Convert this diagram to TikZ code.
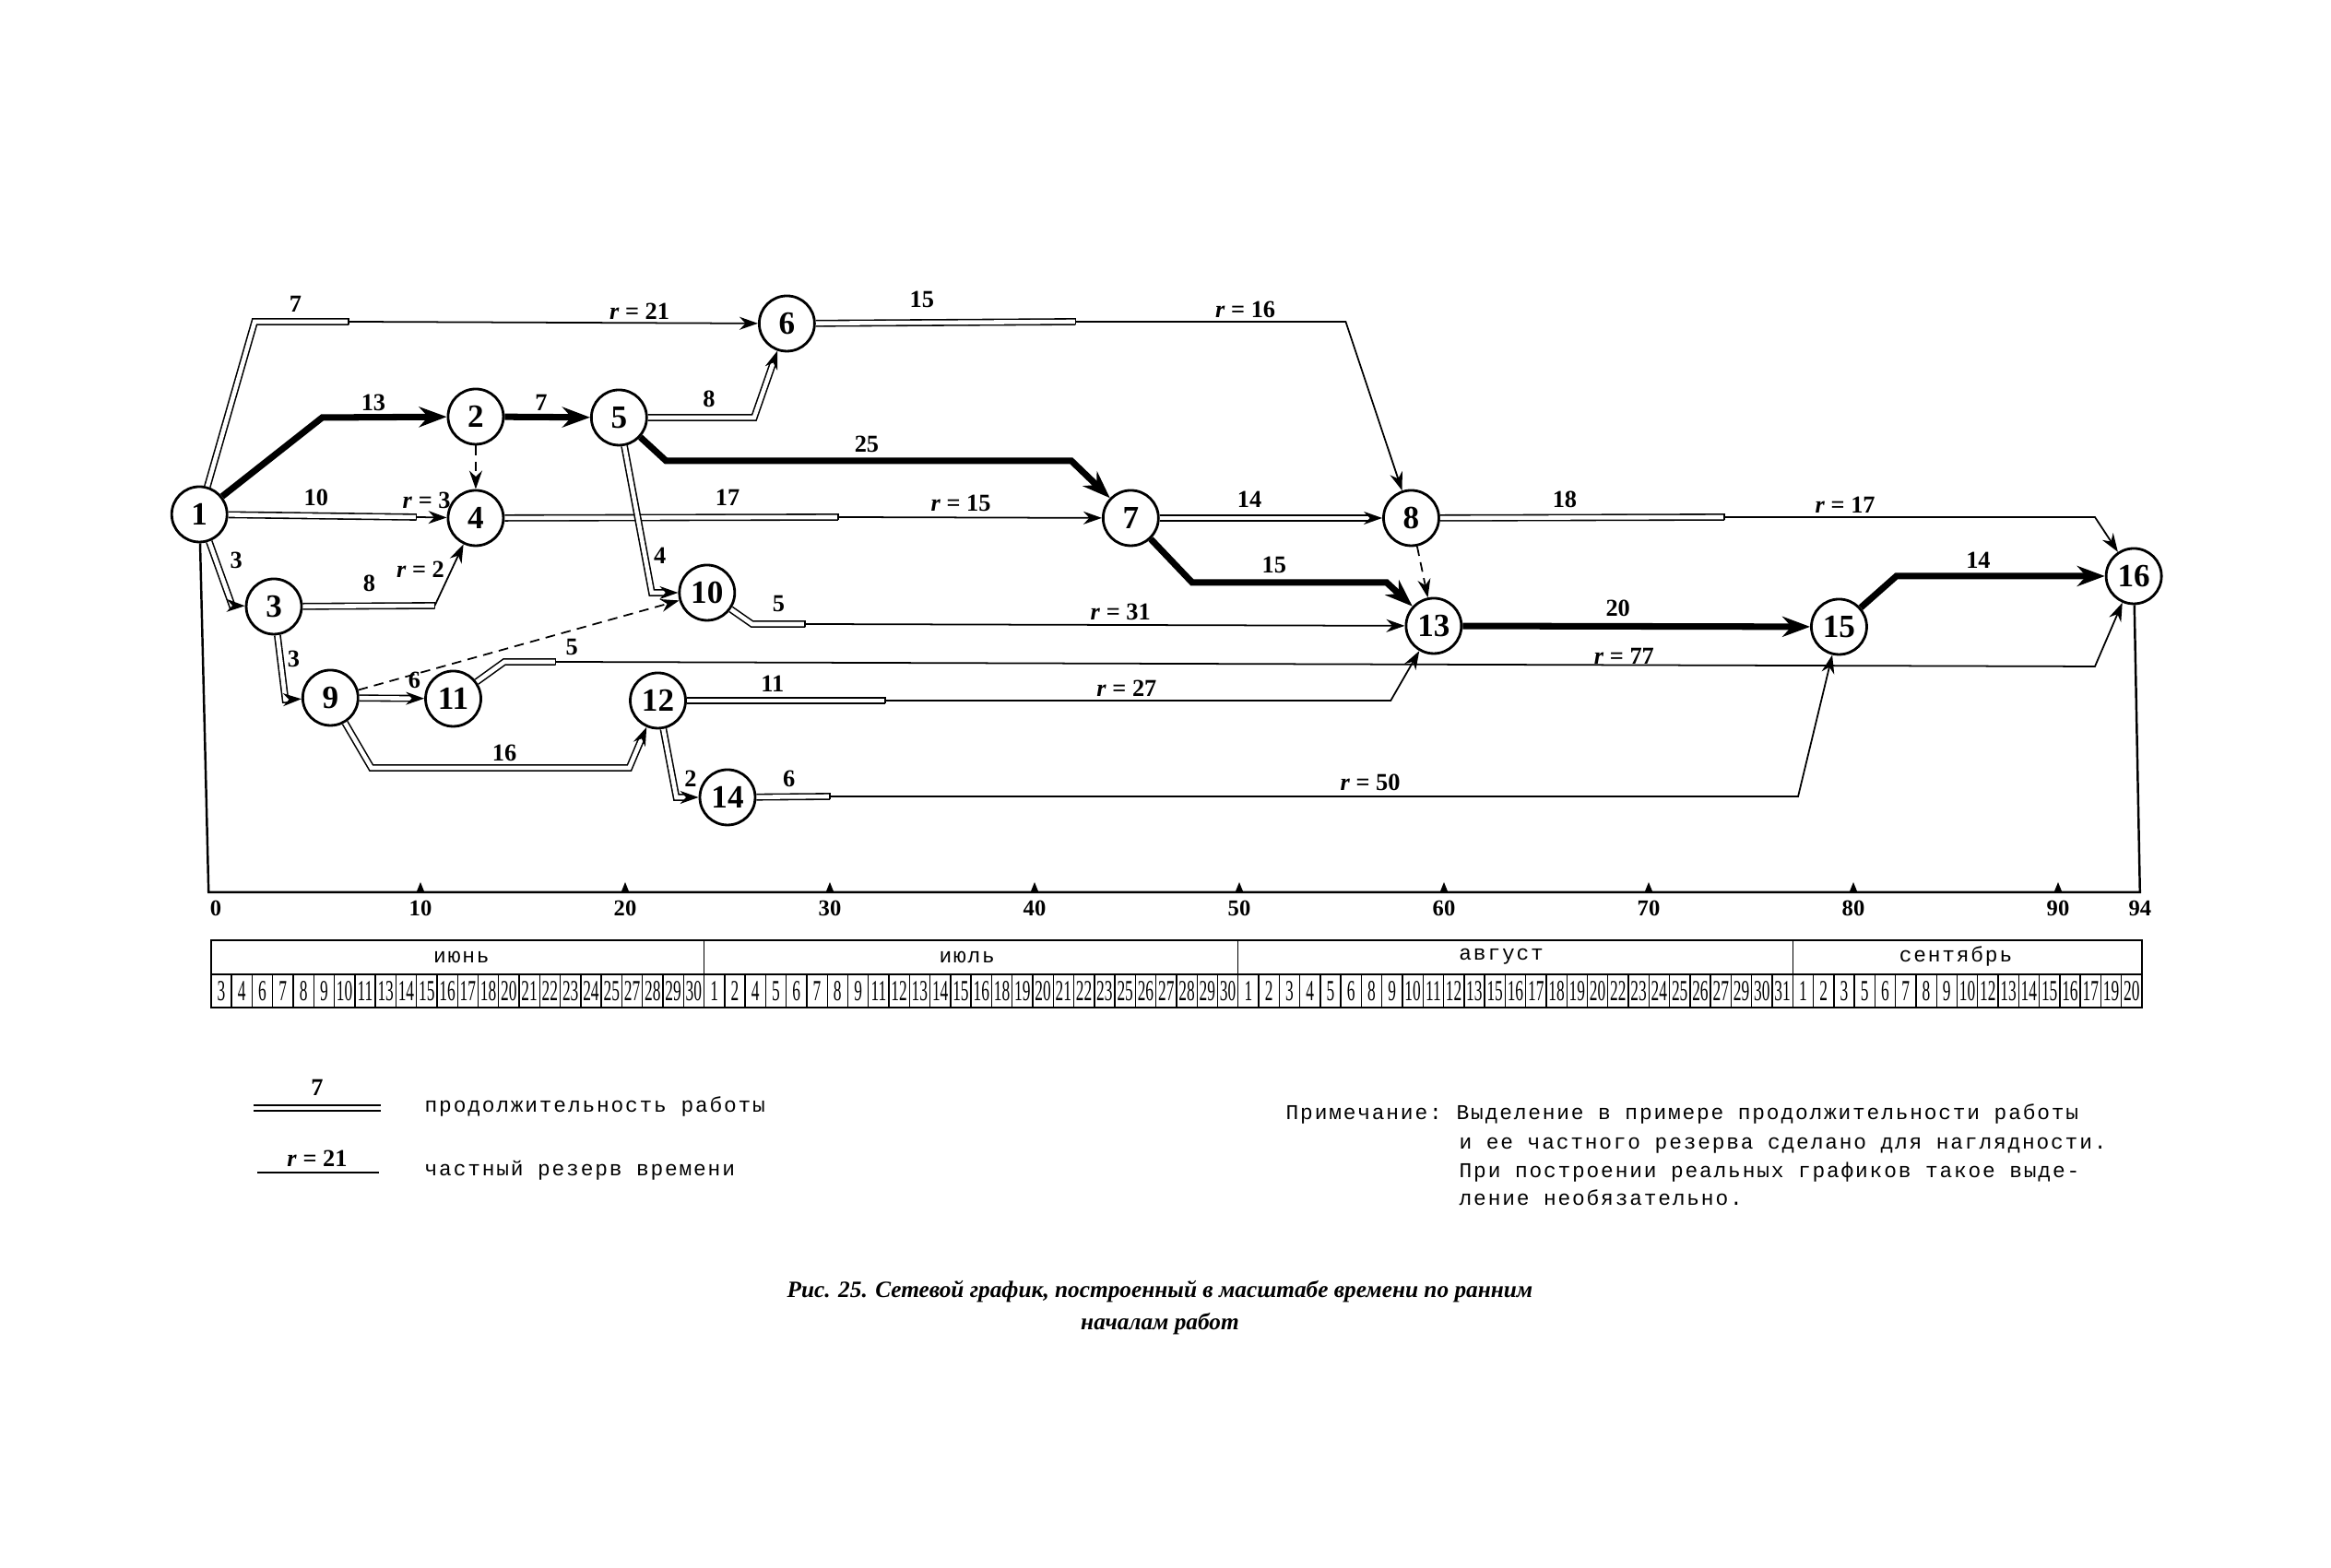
\documentclass[tikz,border=0pt]{standalone}
\usepackage{fontspec}
\setmainfont{Liberation Serif}
\newfontfamily\typew[LetterSpace=8]{Liberation Mono}
\usepackage{graphicx}
\usetikzlibrary{arrows.meta}

\tikzset{
  event/.style={circle, draw, line width=0.8pt, minimum size=0.6cm, inner sep=0pt,
    font=\bfseries\fontsize{10}{10}\selectfont},
  crit/.style={line width=2pt, -{Stealth[length=3mm,width=2.2mm]}},
  dur/.style={double, double distance=1.3pt, line width=0.45pt},
  rez/.style={line width=0.5pt},
  fict/.style={line width=0.5pt, dash pattern=on 3pt off 2pt},
  tip/.style={-{Stealth[length=2mm,width=1.4mm]}},
  lbl/.style={inner sep=0pt, font=\bfseries\fontsize{7.5}{8}\selectfont},
  tw/.style={inner sep=0pt, font=\typew\fontsize{6.5}{8}\selectfont},
  dnum/.style={inner sep=0pt, font=\fontsize{9}{9}\selectfont},
}
\newcommand{\dn}[1]{\scalebox{0.55}[1]{#1}}

\begin{document}
\begin{tikzpicture}
\fill[white] (0,0) rectangle (25.28,17.01);
\useasboundingbox (0,0) rectangle (25.28,17.01);

\begin{scope}[shift={(2.34cm,0cm)}, x=0.222cm]
% события
\node[event] (n1) at (-0.8,11.43) {1};
\node[event] (n2) at (12.7,12.49) {2};
\node[event] (n3) at (2.84,10.43) {3};
\node[event] (n4) at (12.7,11.39) {4};
\node[event] (n5) at (19.7,12.48) {5};
\node[event] (n6) at (27.9,13.50) {6};
\node[event] (n7) at (44.7,11.39) {7};
\node[event] (n8) at (58.4,11.39) {8};
\node[event] (n9) at (5.6,9.44) {9};
\node[event] (n10) at (24.0,10.58) {10};
\node[event] (n11) at (11.6,9.43) {11};
\node[event] (n12) at (21.6,9.41) {12};
\node[event] (n13) at (59.5,10.22) {13};
\node[event] (n14) at (25.0,8.36) {14};
\node[event] (n15) at (79.3,10.21) {15};
\node[event] (n16) at (93.7,10.76) {16};

% критический путь
\coordinate (a12) at (5.2,12.48);
\draw[crit] (n1) -- (a12) -- (n2);
\draw[crit] (n2) -- (n5);
\coordinate (a57) at (22.0,12.01);
\coordinate (b57) at (41.8,12.01);
\draw[crit] (n5) -- (a57) -- (b57) -- (n7);
\coordinate (a713) at (47.7,10.69);
\coordinate (b713) at (57.2,10.69);
\draw[crit] (n7) -- (a713) -- (b713) -- (n13);
\draw[crit] (n13) -- (n15);
\coordinate (a1516) at (82.1,10.76);
\draw[crit] (n15) -- (a1516) -- (n16);
\node[lbl] (l12) at (7.7,12.64) {13};
\node[lbl] (l25) at (15.9,12.64) {7};
\node[lbl] (l57) at (31.8,12.19) {25};
\node[lbl] (l713) at (51.7,10.88) {15};
\node[lbl] (l1315) at (68.5,10.41) {20};
\node[lbl] (l1516) at (86.1,10.93) {14};

% работа 1-6
\coordinate (a16) at (1.9,13.52);
\coordinate (d16) at (6.5,13.52);
\draw[dur] (n1) -- (a16) -- (d16);
\draw[rez, tip] (d16) -- (n6);
\node[lbl] (l16) at (3.9,13.71) {7};
\node[lbl] (r16) at (20.7,13.63) {\textit{r} = 21};

% работа 5-6
\coordinate (a56) at (26.3,12.48);
\draw[dur, tip] (n5) -- (a56) -- (n6);
\node[lbl] (l56) at (24.1,12.68) {8};

% работа 1-4
\coordinate (d14) at (9.8,11.40);
\draw[dur] (n1) -- (d14);
\draw[rez, tip] (d14) -- (n4);
\node[lbl] (l14) at (4.9,11.61) {10};
\node[lbl] (r14) at (10.3,11.58) {\textit{r} = 3};

% работа 3-4
\coordinate (d34) at (10.7,10.44);
\draw[dur] (n3) -- (d34);
\draw[rez, tip] (d34) -- (n4);
\node[lbl] (l34) at (7.5,10.68) {8};
\node[lbl] (r34) at (10.0,10.83) {\textit{r} = 2};

% работа 1-3
\coordinate (a13) at (0.8,10.44);
\draw[dur, tip] (n1) -- (a13) -- (n3);
\node[lbl] (l13) at (1.0,10.93) {3};

% фиктивные работы
\draw[fict, tip] (n2) -- (n4);
\draw[fict, tip] (n9) -- (n10);
\draw[fict, tip] (n8) -- (n13);

% работа 4-7
\coordinate (d47) at (30.4,11.40);
\draw[dur] (n4) -- (d47);
\draw[rez, tip] (d47) -- (n7);
\node[lbl] (l47) at (25.0,11.61) {17};
\node[lbl] (r47) at (36.4,11.55) {\textit{r} = 15};

% работа 7-8
\draw[dur, tip] (n7) -- (n8);
\node[lbl] (l78) at (50.5,11.59) {14};

% работа 6-8
\coordinate (d68) at (42.0,13.52);
\coordinate (a68) at (55.2,13.52);
\draw[dur] (n6) -- (d68);
\draw[rez, tip] (d68) -- (a68) -- (n8);
\node[lbl] (l68) at (34.5,13.76) {15};
\node[lbl] (r68) at (50.3,13.65) {\textit{r} = 16};

% работа 8-16
\coordinate (d816) at (73.7,11.40);
\coordinate (a816) at (91.8,11.40);
\draw[dur] (n8) -- (d816);
\draw[rez, tip] (d816) -- (a816) -- (n16);
\node[lbl] (l816) at (65.9,11.59) {18};
\node[lbl] (r816) at (79.6,11.53) {\textit{r} = 17};

% работа 5-10
\coordinate (a510) at (21.3,10.58);
\draw[dur, tip] (n5) -- (a510) -- (n10);
\node[lbl] (l510) at (21.7,10.98) {4};

% работа 10-13
\coordinate (a1013) at (26.2,10.24);
\coordinate (d1013) at (28.8,10.24);
\draw[dur] (n10) -- (a1013) -- (d1013);
\draw[rez, tip] (d1013) -- (n13);
\node[lbl] (l1013) at (27.5,10.46) {5};
\node[lbl] (r1013) at (44.2,10.37) {\textit{r} = 31};

% работа 3-9
\coordinate (a39) at (3.4,9.42);
\draw[dur, tip] (n3) -- (a39) -- (n9);
\node[lbl] (l39) at (3.8,9.86) {3};

% работа 9-11
\draw[dur, tip] (n9) -- (n11);
\node[lbl] (l911) at (9.7,9.63) {6};

% работа 11-16
\coordinate (a1116) at (14.1,9.83);
\coordinate (d1116) at (16.6,9.83);
\coordinate (b1116) at (91.8,9.78);
\draw[dur] (n11) -- (a1116) -- (d1116);
\draw[rez, tip] (d1116) -- (b1116) -- (n16);
\node[lbl] (l1116) at (17.4,9.99) {5};
\node[lbl] (r1116) at (68.8,9.89) {\textit{r} = 77};

% работа 9-12
\coordinate (a912) at (7.6,8.68);
\coordinate (b912) at (20.2,8.68);
\draw[dur, tip] (n9) -- (a912) -- (b912) -- (n12);
\node[lbl] (l912) at (14.1,8.84) {16};

% работа 12-13
\coordinate (d1213) at (32.7,9.41);
\coordinate (a1213) at (57.4,9.41);
\draw[dur] (n12) -- (d1213);
\draw[rez, tip] (d1213) -- (a1213) -- (n13);
\node[lbl] (l1213) at (27.2,9.59) {11};
\node[lbl] (r1213) at (44.5,9.54) {\textit{r} = 27};

% работа 12-14
\coordinate (a1214) at (22.5,8.36);
\draw[dur, tip] (n12) -- (a1214) -- (n14);
\node[lbl] (l1214) at (23.2,8.56) {2};

% работа 14-15
\coordinate (d1415) at (30.0,8.37);
\coordinate (a1415) at (77.3,8.37);
\draw[dur] (n14) -- (d1415);
\draw[rez, tip] (d1415) -- (a1415) -- (n15);
\node[lbl] (l1415) at (28.0,8.56) {6};
\node[lbl] (r1415) at (56.4,8.52) {\textit{r} = 50};

% концы двойных линий
\foreach \c in {d16,d14,d34,d47,d68,d816,d1013,d1116,d1213,d1415}
  \draw[rez] ([yshift=0.35mm]\c) -- ([yshift=-0.35mm]\c);

% ось времени
\coordinate (ax0) at (-0.35,7.33);
\coordinate (ax94) at (94,7.33);
\draw[line width=0.7pt] (n1) -- (ax0) -- (ax94) -- (n16);
\foreach \tk in {10,20,...,90}
  \fill (\tk,7.33) -- ++(-0.2,0) -- ++(0.2,0.11) -- ++(0.2,-0.11) -- cycle;
\foreach \tk in {0,10,...,90,94}
  \node[lbl, font=\bfseries\fontsize{7}{8}\selectfont] (x\tk) at (\tk,7.16) {\tk};

% календарь
\draw[line width=0.5pt] (-0.23,6.08) rectangle (94.1,6.81);
\draw[line width=0.4pt] (-0.23,6.44) -- (94.1,6.44);
\foreach \i in {1,...,93}
  \draw[line width=0.4pt] ({-0.23+1.0035*\i},6.08) -- ++(0,0.36);
\foreach \i in {24,50,77}
  \draw[line width=0.4pt] ({-0.23+1.0035*\i},6.44) -- ++(0,0.37);
\node[tw] (m6) at (12.0,6.63) {июнь};
\node[tw] (m7) at (36.7,6.63) {июль};
\node[tw] (m8) at (62.8,6.63) {август};
\node[tw] (m9) at (85.0,6.63) {сентябрь};
\foreach \d [count=\i from 0] in {3,4,6,7,8,9,10,11,13,14,15,16,17,18,20,21,22,23,24,25,27,28,29,30,
    1,2,4,5,6,7,8,9,11,12,13,14,15,16,18,19,20,21,22,23,25,26,27,28,29,30,
    1,2,3,4,5,6,8,9,10,11,12,13,15,16,17,18,19,20,22,23,24,25,26,27,29,30,31,
    1,2,3,5,6,7,8,9,10,12,13,14,15,16,17,19,20}
  \node[dnum] (d\i) at ({-0.23+1.0035*\i+0.5},6.26) {\dn{\d}};
\end{scope}

% условные обозначения
\node[lbl] (lg1) at (3.44,5.21) {7};
\draw[dur] (2.75,4.99) -- (4.13,4.99);
\node[tw, anchor=base west] (lgt1) at (4.60,4.94) {продолжительность работы};
\node[lbl] (lg2) at (3.44,4.44) {\textit{r} = 21};
\draw[rez] (2.79,4.29) -- (4.11,4.29);
\node[tw, anchor=base west] (lgt2) at (4.60,4.25) {частный резерв времени};

% примечание
\node[tw, anchor=base west] (pr) at (13.94,4.86) {Примечание:};
\node[tw, anchor=base west] (pr1) at (15.79,4.86) {Выделение в примере продолжительности работы};
\node[tw, anchor=base west] (pr2) at (15.82,4.54) {и ее частного резерва сделано для наглядности.};
\node[tw, anchor=base west] (pr3) at (15.82,4.23) {При построении реальных графиков такое выде-};
\node[tw, anchor=base west] (pr4) at (15.82,3.93) {ление необязательно.};

% подпись
\node[font=\bfseries\itshape\fontsize{7.2}{10}\selectfont, align=center] (cap) at (12.58,2.82)
  {Рис. 25. Сетевой график, построенный в масштабе времени по ранним\\началам работ};
\end{tikzpicture}
\end{document}
